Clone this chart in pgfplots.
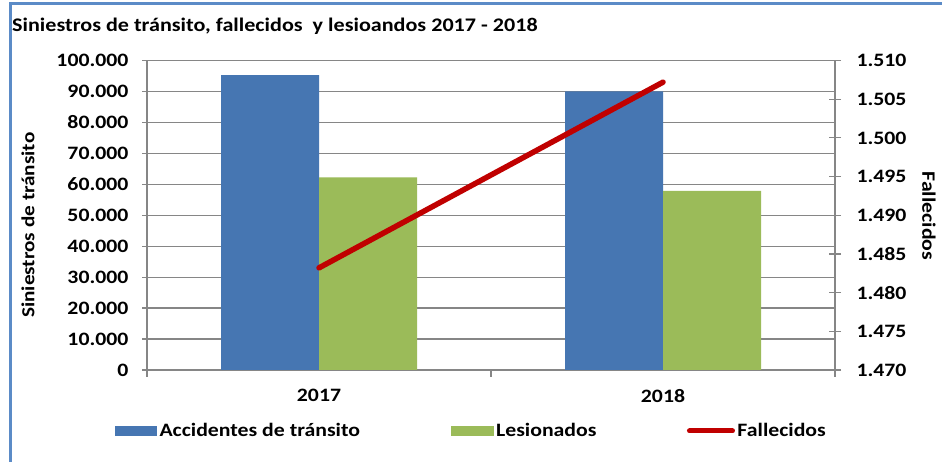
\documentclass[border=0pt]{standalone}
\usepackage{pgfplots}
\pgfplotsset{compat=1.18}
\usepackage{fontspec}
\setmainfont{Carlito}[FakeStretch=1.15]
\definecolor{barblue}{RGB}{70,118,178}
\definecolor{bargreen}{RGB}{155,187,89}
\definecolor{linered}{RGB}{192,0,0}
\definecolor{axgray}{RGB}{134,134,134}
\definecolor{frameblue}{RGB}{91,139,199}
\begin{document}
\begin{tikzpicture}[x=1bp,y=1bp]
\useasboundingbox (0,0) rectangle (942,462);
\fill[white] (0,0) rectangle (942,462);
\draw[frameblue, line width=3bp] (10,0) -- (10,458) -- (942,458);
\node[anchor=west, inner sep=0pt, font=\bfseries\fontsize{19.3}{19.3}\selectfont] at (12,435.5) {Siniestros de tránsito, fallecidos\ \ y lesioandos 2017 - 2018};
\begin{axis}[
  at={(147bp,92bp)}, anchor=south west, scale only axis,
  width=688bp, height=309.5bp,
  xmin=-0.5, xmax=1.5, ymin=0, ymax=100000,
  axis y line*=left, axis x line*=bottom,
  ybar=0pt, bar width=98bp,
  xtick={0,1}, xticklabels={2017,2018},
  minor xtick={-0.5,0.5,1.5},
  ytick={0,10000,...,100000},
  scaled y ticks=false,
  ymajorgrids, grid style={axgray, line width=1.2bp},
  axis line style={axgray, line width=1.2bp},
  tick style={axgray, line width=1.2bp},
  tick align=outside,
  major tick length=5bp, minor tick length=7bp,
  major x tick style={draw=none},
  /pgf/number format/fixed,
  /pgf/number format/assume math mode=true,
  /pgf/number format/1000 sep={.},
  tick label style={black, font=\bfseries\fontsize{19}{19}\selectfont},
  yticklabel style={xshift=-10bp},
  xticklabel style={yshift=-11bp},
  ylabel={Siniestros de tránsito},
  ylabel style={font=\bfseries\fontsize{18.5}{18.5}\selectfont, at={(axis description cs:-0.173,0.468)}, anchor=center},
  legend columns=3,
  legend style={at={(axis description cs:-0.0465,-0.197)}, anchor=west, draw=none, fill=none, inner sep=0pt, outer sep=0pt,
    font=\bfseries\fontsize{19}{19}\selectfont,
    /tikz/every even column/.append style={column sep=88bp},
    nodes={inner sep=2.5bp}},
]
\addplot[fill=barblue, draw=none, legend image code/.code={\fill[barblue] (0bp,-5bp) rectangle (42bp,5bp);}] coordinates {(0,95300) (1,90000)};
\addplot[fill=bargreen, draw=none, legend image code/.code={\fill[bargreen] (0bp,-5bp) rectangle (43bp,5bp);}] coordinates {(0,62200) (1,57900)};
\addlegendimage{linered, line width=5bp, legend image code/.code={\draw[linered, line width=5bp, line cap=round] (2bp,0bp) -- (45bp,0bp);}}
\legend{Accidentes de tránsito, Lesionados, Fallecidos}
\end{axis}
\begin{axis}[
  at={(147bp,92bp)}, anchor=south west, scale only axis,
  width=688bp, height=309.5bp,
  xmin=-0.5, xmax=1.5, ymin=1470, ymax=1510,
  axis x line=none, axis y line*=right,
  ytick={1470,1475,...,1510},
  scaled y ticks=false,
  axis line style={axgray, line width=1.2bp},
  tick style={axgray, line width=1.2bp},
  tick align=center, major tick length=12bp,
  /pgf/number format/fixed,
  /pgf/number format/assume math mode=true,
  /pgf/number format/1000 sep={.},
  tick label style={black, font=\bfseries\fontsize{19}{19}\selectfont},
  yticklabel style={xshift=12bp},
  ylabel={Fallecidos},
  ylabel style={font=\bfseries\fontsize{19}{19}\selectfont, at={(axis description cs:1.1366,0.4976)}, anchor=center, rotate=180},
]
\addplot[linered, line width=5.5bp, line cap=round] coordinates {(0,1483.2) (1,1507.2)};
\end{axis}
\end{tikzpicture}
\end{document}
